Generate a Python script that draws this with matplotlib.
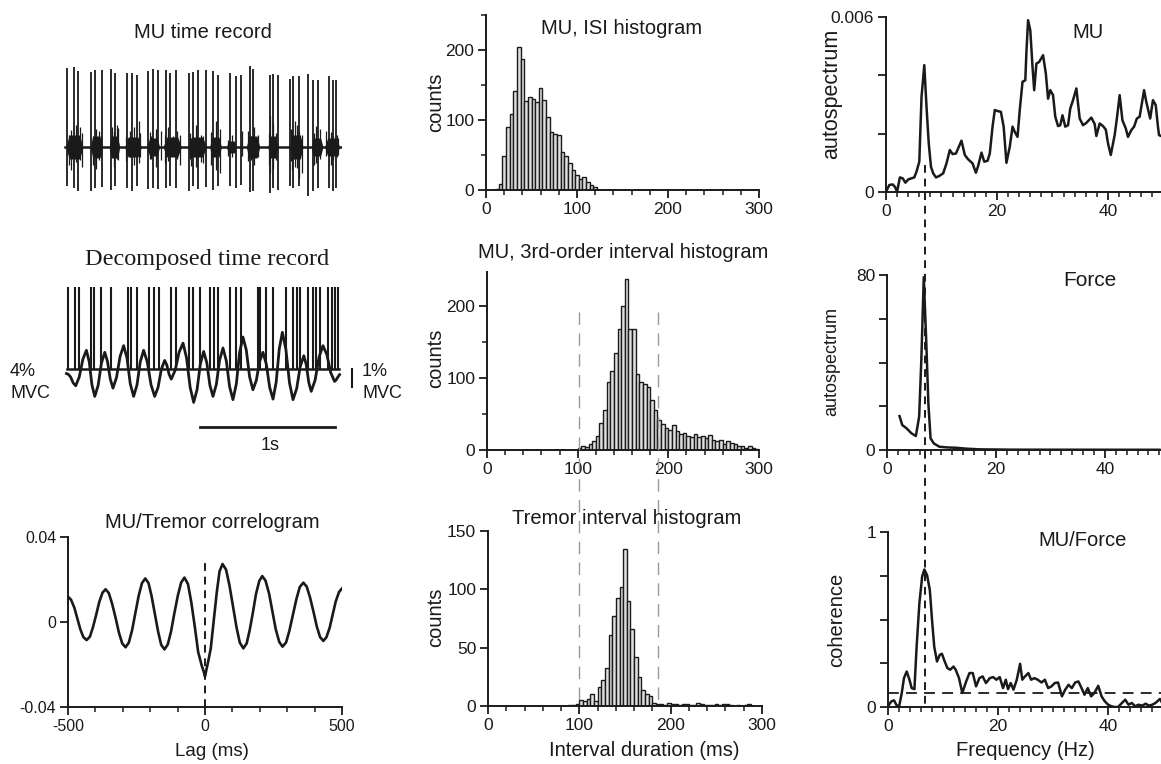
import numpy as np
import matplotlib
matplotlib.use("Agg")
import matplotlib.pyplot as plt
from matplotlib.ticker import MultipleLocator
from matplotlib.transforms import blended_transform_factory
from matplotlib.lines import Line2D

plt.rcParams["font.family"] = ["Liberation Sans", "DejaVu Sans"]
plt.rcParams["axes.unicode_minus"] = False
INK = "#1a1a1a"

# ---- MU time record (raw EMG): big spikes, smaller spikes, noise bursts (s, px) ----
mu_spike_t = [-0.007, 0.042, 0.074, 0.173, 0.198, 0.252, 0.316, 0.346, 0.440, 0.477,
              0.511, 0.593, 0.630, 0.667, 0.723, 0.753, 0.802, 0.896, 0.926, 0.963,
              1.025, 1.074, 1.111, 1.202, 1.247, 1.284, 1.346, 1.370, 1.494, 1.519,
              1.556, 1.642, 1.667, 1.711, 1.778, 1.815, 1.852, 1.933, 1.963, 1.988]
mu_spike_up = [79, 80, 76, 75, 77, 77, 78, 74, 74, 74, 72, 76, 78, 77, 77, 74, 77, 74, 75, 77,
               77, 76, 72, 74, 71, 72, 81, 78, 72, 73, 72, 68, 71, 71, 73, 67, 67, 71, 67, 67]
mu_spike_down = [39, 41, 44, 44, 41, 40, 43, 39, 41, 44, 39, 42, 41, 42, 41, 39, 41, 44, 39, 42,
                 40, 43, 39, 39, 41, 38, 45, 44, 46, 41, 43, 39, 41, 39, 49, 44, 41, 41, 44, 41]
small_spike_t = [0.005, 0.025, 0.060, 0.091, 0.100, 0.185, 0.205, 0.230, 0.245, 0.328,
                 0.340, 0.360, 0.370, 0.430, 0.462, 0.490, 0.526, 0.535, 0.605, 0.617,
                 0.650, 0.691, 0.715, 0.740, 0.778, 0.810, 0.830, 0.905, 0.914, 0.945,
                 0.985, 1.000, 1.060, 1.094, 1.125, 1.185, 1.215, 1.291, 1.330, 1.358,
                 1.380, 1.395, 1.410, 1.488, 1.499, 1.520, 1.538, 1.650, 1.662, 1.680,
                 1.696, 1.711, 1.730, 1.822, 1.840, 1.870, 1.914, 1.945, 1.963, 1.990,
                 2.000]
small_spike_up = [12, 17, 22, 20, 14, 11, 18, 16, 12, 20, 15, 22, 19, 10, 16, 20, 26, 14, 15, 11,
                  18, 16, 12, 20, 11, 16, 12, 14, 9, 22, 12, 11, 15, 26, 18, 7, 12, 16, 16, 11,
                  20, 7, 12, 14, 31, 24, 14, 18, 17, 26, 22, 15, 12, 14, 21, 18, 16, 15, 11, 12,
                  9]
small_spike_down = [18, 23, 15, 13, 20, 18, 22, 13, 10, 9, 20, 12, 13, 14, 10, 18, 16, 10, 12, 12,
                    20, 13, 16, 14, 9, 12, 18, 12, 19, 20, 15, 16, 18, 23, 26, 9, 10, 9, 14, 13,
                    18, 10, 10, 18, 26, 22, 13, 14, 23, 20, 21, 31, 26, 18, 16, 12, 9, 18, 13, 10,
                    8]
burst_start = [-0.017, 0.165, 0.304, 0.420, 0.585, 0.704, 0.889, 1.049, 1.173, 1.321,
               1.481, 1.642, 1.802, 1.901]
burst_end = [0.111, 0.254, 0.383, 0.543, 0.679, 0.840, 1.025, 1.136, 1.247, 1.420,
             1.556, 1.741, 1.889, 2.012]
burst_amp = [12, 11, 11, 10, 9, 10, 10, 10, 6, 11, 11, 12, 9, 9]

# ---- decomposed record: MU firing times (s) and tremor (% MVC) ----
firing_t = [0.000, 0.049, 0.081, 0.173, 0.193, 0.247, 0.321, 0.444, 0.469, 0.511,
            0.600, 0.635, 0.674, 0.765, 0.798, 0.896, 0.926, 0.975, 1.049, 1.079,
            1.111, 1.202, 1.247, 1.284, 1.407, 1.425, 1.469, 1.519, 1.617, 1.667,
            1.696, 1.716, 1.778, 1.815, 1.840, 1.869, 1.926, 1.958, 1.975, 2.000]
tremor_t = [-0.012, 0.000, 0.019, 0.038, 0.057, 0.083, 0.110, 0.136, 0.157, 0.177,
            0.198, 0.223, 0.247, 0.272, 0.292, 0.313, 0.333, 0.359, 0.386, 0.412,
            0.437, 0.461, 0.486, 0.511, 0.535, 0.560, 0.587, 0.615, 0.642, 0.667,
            0.691, 0.716, 0.732, 0.749, 0.765, 0.794, 0.823, 0.852, 0.878, 0.905,
            0.931, 0.956, 0.980, 1.005, 1.028, 1.051, 1.074, 1.099, 1.123, 1.148,
            1.173, 1.197, 1.222, 1.247, 1.271, 1.296, 1.321, 1.345, 1.370, 1.395,
            1.419, 1.444, 1.469, 1.494, 1.519, 1.542, 1.565, 1.588, 1.614, 1.641,
            1.667, 1.694, 1.720, 1.747, 1.765, 1.784, 1.802, 1.831, 1.860, 1.889,
            1.918, 1.946, 1.975, 1.987, 2.000, 2.012]
tremor_v = [-0.25, -0.28, -0.44, -0.77, -0.93, -0.44, 0.55, 1.04, 0.40, -0.88,
            -1.52, -0.91, 0.32, 0.93, 0.43, -0.56, -1.06, -0.47, 0.71, 1.30,
            0.60, -0.82, -1.52, -0.88, 0.40, 1.04, 0.40, -0.88, -1.52, -1.02,
            -0.02, 0.48, 0.22, -0.30, -0.56, -0.06, 0.94, 1.44, 0.62, -1.03,
            -1.85, -1.14, 0.27, 0.98, 0.36, -0.90, -1.52, -0.85, 0.50, 1.17,
            0.45, -0.98, -1.70, -0.83, 0.91, 1.78, 1.05, -0.42, -1.15, -0.63,
            0.41, 0.93, 0.28, -1.02, -1.67, -0.74, 1.11, 2.04, 1.11, -0.77,
            -1.70, -1.09, 0.13, 0.74, 0.25, -0.75, -1.24, -0.61, 0.67, 1.30,
            0.80, -0.19, -0.69, -0.60, -0.44, -0.31]

# ---- MU/tremor correlogram ----
corr_lag = [-500, -489, -477, -466, -455, -444, -432, -420, -409, -397,
            -386, -374, -363, -351, -339, -326, -314, -302, -290, -278,
            -266, -254, -242, -230, -218, -206, -195, -183, -171, -160,
            -148, -136, -124, -112, -99, -87, -75, -62, -50, -37,
            -25, -12, -5, 0, 5, 11, 21, 32, 43, 53,
            64, 77, 89, 102, 115, 127, 140, 152, 163, 175,
            186, 198, 209, 221, 234, 246, 258, 271, 283, 296,
            308, 321, 334, 346, 359, 371, 383, 396, 408, 420,
            432, 443, 455, 466, 477, 489, 500]
corr_val = [0.0119, 0.0105, 0.0068, 0.0017, -0.0034, -0.0071, -0.0085, -0.0069, -0.0025, 0.0035,
            0.0094, 0.0138, 0.0154, 0.0136, 0.0086, 0.0018, -0.0051, -0.0101, -0.0119, -0.0097,
            -0.0038, 0.0043, 0.0124, 0.0183, 0.0205, 0.0183, 0.0122, 0.0038, -0.0046, -0.0107,
            -0.0129, -0.0106, -0.0045, 0.0040, 0.0125, 0.0186, 0.0209, 0.0178, 0.0093, -0.0024,
            -0.0141, -0.0205, -0.0232, -0.0257, -0.0225, -0.0190, -0.0125, 0.0008, 0.0140, 0.0238,
            0.0273, 0.0246, 0.0174, 0.0075, -0.0025, -0.0097, -0.0124, -0.0101, -0.0039, 0.0046,
            0.0131, 0.0193, 0.0216, 0.0194, 0.0133, 0.0050, -0.0033, -0.0094, -0.0116, -0.0096,
            -0.0041, 0.0035, 0.0110, 0.0165, 0.0185, 0.0167, 0.0117, 0.0048, -0.0021, -0.0071,
            -0.0089, -0.0072, -0.0027, 0.0035, 0.0096, 0.0141, 0.0158]

# ---- interval histograms (4 ms bins, first bin start in ms) ----
BIN_W = 4
isi_first = 10
isi_counts = [2, 8, 48, 90, 108, 142, 205, 187, 127, 133, 130, 125, 145, 128, 104, 83, 80, 78,
              55, 48, 38, 29, 22, 16, 18, 12, 7, 4]
third_first = 100
third_counts = [3, 5, 4, 8, 12, 20, 38, 55, 95, 110, 135, 168, 200, 237, 168, 168, 105, 95, 92, 88,
                70, 55, 42, 36, 30, 28, 35, 26, 22, 24, 20, 18, 22, 18, 20, 16, 21, 14, 12, 14,
                8, 12, 10, 8, 5, 6, 3, 5, 3, 2]
tremor_first = 88
tremor_counts = [1, 1, 2, 5, 4, 6, 10, 4, 16, 22, 33, 61, 77, 93, 102, 135, 90, 66, 42, 25,
                 14, 10, 9, 3, 2, 2, 1, 3, 2, 2, 1, 2, 2, 1, 1, 3, 2, 1, 1, 1,
                 2, 1, 2, 2, 1, 0, 1, 0, 1, 2]
window_ms = [100, 186]

# ---- spectra ----
mu_f = [0, 0.6, 1.2, 1.6, 2.0, 2.5, 3.0, 3.5, 4.0, 4.6, 5.1, 5.5, 6.0, 6.4, 6.9, 7.3, 7.7, 8.1,
        8.5, 9.0, 9.6, 10.3, 10.9, 11.5, 12.0, 12.6, 13.6, 14.2, 14.8, 15.6, 16.2, 16.6, 17.2,
        17.7, 18.3, 18.7, 19.2, 19.6, 20.2, 20.7, 21.2, 21.7, 22.3, 22.8, 23.2, 23.7, 24.1,
        24.6, 25.1, 25.3, 25.6, 26.0, 26.4, 26.7, 27.1, 27.6, 28.3, 28.8, 29.2, 29.6, 30.1,
        30.5, 31.0, 31.4, 31.8, 32.3, 32.8, 33.2, 33.7, 34.3, 34.9, 35.5, 36.1, 37.0, 37.6,
        37.9, 38.5, 39.1, 39.6, 40.0, 40.5, 41.2, 41.6, 42.1, 42.6, 43.2, 43.6, 44.2, 44.7,
        45.2, 45.7, 46.5, 46.9, 47.6, 48.1, 48.6, 49.0, 49.2, 49.8]
mu_spec_e3 = [0.01, 0.24, 0.26, 0.18, 0.01, 0.50, 0.47, 0.32, 0.43, 0.47, 0.50, 0.70, 1.04, 3.26,
              4.35, 2.92, 1.67, 0.87, 0.64, 0.50, 0.55, 0.64, 0.98, 1.44, 1.30, 1.32, 1.76, 1.27,
              1.12, 0.98, 0.66, 0.89, 1.35, 1.04, 1.07, 1.32, 2.24, 2.81, 2.77, 2.75, 2.24, 1.00,
              1.55, 2.24, 2.06, 1.89, 2.81, 3.78, 3.83, 4.80, 5.89, 5.54, 4.29, 3.49, 4.40, 4.46,
              4.69, 4.06, 3.20, 3.49, 3.32, 2.58, 2.26, 2.29, 2.63, 2.24, 2.29, 2.86, 3.15, 3.55,
              2.52, 2.29, 2.37, 2.55, 2.33, 1.92, 2.35, 2.26, 2.14, 1.67, 1.27, 1.95, 2.52, 3.32,
              2.46, 2.18, 1.89, 2.12, 2.24, 2.52, 2.58, 3.49, 3.09, 2.52, 3.15, 2.98, 2.24, 1.95,
              1.90]
force_f = [2.3, 2.8, 3.6, 4.5, 5.3, 5.9, 6.3, 6.75, 7.2, 7.6, 8.0, 8.6, 9.6, 10.9, 12.8, 14.6,
           17.0, 23.0, 50.0]
force_spec = [15.5, 11.4, 9.9, 7.6, 6.4, 15.2, 41, 79, 50, 21, 5.3, 3.0, 1.5, 1.2, 1.0, 0.6,
              0.3, 0.15, 0.1]
coh_f = [0, 0.6, 1.1, 1.5, 2.0, 2.5, 2.9, 3.4, 3.9, 4.3, 4.8, 5.2, 5.7, 6.2, 6.6, 7.1, 7.6, 8.0,
         8.4, 8.9, 9.4, 9.8, 10.3, 10.8, 11.3, 11.9, 12.3, 12.9, 13.5, 14.2, 14.8, 15.4, 16.0,
         16.6, 17.2, 17.8, 18.5, 19.1, 19.7, 20.3, 20.9, 21.4, 21.8, 22.3, 22.8, 23.4, 24.0,
         24.4, 24.9, 25.5, 26.0, 26.6, 27.2, 27.9, 28.5, 29.1, 29.7, 30.3, 30.9, 31.6, 32.2,
         32.8, 33.4, 34.0, 34.6, 35.3, 35.7, 36.3, 36.9, 37.5, 38.2, 38.8, 39.4, 40.0, 40.6,
         41.2, 41.8, 42.5, 43.1, 43.7, 44.3, 44.9, 45.5, 46.2, 46.8, 47.4, 48.0, 48.6, 49.4, 50.0]
coh_val = [0.004, 0.032, 0.038, 0.013, 0.0, 0.08, 0.165, 0.203, 0.156, 0.108, 0.102, 0.345, 0.592,
           0.744, 0.786, 0.753, 0.668, 0.497, 0.345, 0.26, 0.298, 0.304, 0.26, 0.222, 0.213,
           0.231, 0.213, 0.165, 0.08, 0.146, 0.194, 0.194, 0.118, 0.165, 0.175, 0.137, 0.165,
           0.171, 0.156, 0.171, 0.108, 0.156, 0.102, 0.137, 0.099, 0.156, 0.247, 0.156, 0.175,
           0.194, 0.156, 0.165, 0.156, 0.14, 0.156, 0.108, 0.118, 0.137, 0.14, 0.061, 0.099,
           0.127, 0.108, 0.14, 0.146, 0.099, 0.07, 0.108, 0.061, 0.08, 0.121, 0.061, 0.032,
           0.013, 0.004, 0.0, 0.0, 0.023, 0.042, 0.013, 0.023, 0.004, 0.013, 0.008, 0.019, 0.008,
           0.013, 0.023, 0.046, 0.013]
coh_limit = 0.08
tremor_hz = 6.7

W, H = 1161, 764
fig = plt.figure(figsize=(W / 100, H / 100), dpi=100)


def box(left, top, right, bottom):
    return [left / W, 1 - bottom / H, (right - left) / W, (bottom - top) / H]


def label(x, y, s, size=13, **kw):
    kw.setdefault("ha", "center")
    kw.setdefault("va", "center")
    fig.text(x / W, 1 - y / H, s, fontsize=size, color=INK, **kw)


def style(ax, fs=12.5):
    for s in ("top", "right"):
        ax.spines[s].set_visible(False)
    for s in ("left", "bottom"):
        ax.spines[s].set_linewidth(1.4)
        ax.spines[s].set_color(INK)
    ax.tick_params(which="major", direction="out", length=6, width=1.3, labelsize=fs,
                   pad=2.5, colors=INK)
    ax.tick_params(which="minor", direction="out", length=3.5, width=1.1, colors=INK)
    ax.set_facecolor("none")


# ---------------- left column ----------------
ax_raw = fig.add_axes(box(64, 62, 342, 202))
ax_raw.axis("off")
ax_raw.set_xlim(-0.03, 2.03)
ax_raw.set_ylim(-55, 85)
for t0, t1, a in zip(burst_start, burst_end, burst_amp):
    d = 0.2 * (t1 - t0)
    ax_raw.fill_between([t0, t0 + d, t1 - d, t1], [0, -a, -a, 0], [0, a, a, 0],
                        color=INK, lw=0)
ax_raw.plot([-0.02, 2.02], [0, 0], color=INK, lw=1.8)
ax_raw.vlines(small_spike_t, -np.array(small_spike_down), small_spike_up, color=INK, lw=0.9)
ax_raw.vlines(mu_spike_t, -np.array(mu_spike_down), mu_spike_up, color=INK, lw=1.3)
label(203, 33, "MU time record", 14.5)

ax_dec = fig.add_axes(box(64, 287, 342, 409))
ax_dec.axis("off")
ax_dec.set_xlim(-0.03, 2.03)
ax_dec.set_ylim(-2.22, 4.56)
ax_dec.vlines(firing_t, 0, 4.56, color=INK, lw=1.5)
ax_dec.plot([-0.005, 2.01], [0, 0], color=INK, lw=1.8)
ax_dec.plot(tremor_t, tremor_v, color=INK, lw=2.0)
ax_dec.plot([0.978, 1.978], [-3.22, -3.22], color=INK, lw=2.0, clip_on=False)
ax_dec.plot([2.104, 2.104], [0, -1.0], color=INK, lw=1.5, clip_on=False)
fig.text(207 / W, 1 - 259 / H, "Decomposed time record", fontsize=17.5, color=INK,
         family=["Liberation Serif", "DejaVu Serif"], ha="center", va="center")
label(10, 371, "4%", 13, ha="left")
label(10, 394, "MVC", 13, ha="left")
label(362, 371, "1%", 13, ha="left")
label(362, 394, "MVC", 13, ha="left")
label(270, 446, "1s", 13)

ax_cor = fig.add_axes(box(68, 537, 342, 707))
style(ax_cor, 11.5)
ax_cor.plot(corr_lag, corr_val, color=INK, lw=1.9)
ax_cor.plot([0, 0], [-0.04, 0.0278], color=INK, lw=1.4, ls=(0, (4, 3)))
ax_cor.set_xlim(-500, 500)
ax_cor.set_ylim(-0.04, 0.04)
ax_cor.set_xticks([-500, 0, 500])
ax_cor.xaxis.set_minor_locator(MultipleLocator(100))
ax_cor.set_yticks([-0.04, 0, 0.04])
ax_cor.set_yticklabels(["-0.04", "0", "0.04"])
label(212, 523, "MU/Tremor correlogram", 14.5)
label(212, 751, "Lag (ms)", 13.5)

# ---------------- middle column ----------------
hists = [
    (box(486, 15, 759, 190), isi_first, isi_counts, 250, [0, 100, 200], 50),
    (box(487, 272, 759, 450), third_first, third_counts, 247, [0, 100, 200], 50),
    (box(488, 531, 762, 706), tremor_first, tremor_counts, 150, [0, 50, 100, 150], None),
]
hist_axes = []
for rect, first, counts, ytop, yt, yminor in hists:
    ax = fig.add_axes(rect)
    style(ax)
    left = first + BIN_W * np.arange(len(counts))
    ax.bar(left, counts, width=BIN_W, align="edge", facecolor="#dedede",
           edgecolor=INK, linewidth=1.0)
    ax.set_xlim(0, 300)
    ax.set_ylim(0, ytop)
    ax.set_xticks([0, 100, 200, 300])
    ax.xaxis.set_minor_locator(MultipleLocator(20))
    ax.set_yticks(yt)
    if yminor:
        ax.yaxis.set_minor_locator(MultipleLocator(yminor))
    hist_axes.append(ax)

label(622, 28, "MU, ISI histogram", 14.5)
label(623, 252, "MU, 3rd-order interval histogram", 14.5)
label(627, 518, "Tremor interval histogram", 14.5)
for y in (102, 358, 617):
    label(436, y, "counts", 14.5, rotation=90)
label(644, 751, "Interval duration (ms)", 14.5)

tr = blended_transform_factory(hist_axes[2].transData, fig.transFigure)
for xm in window_ms:
    fig.add_artist(Line2D([xm, xm], [1 - 312 / H, 1 - 705 / H], transform=tr,
                          color="#9a9a9a", lw=1.0, ls=(0, (9, 6))))

# ---------------- right column ----------------
ax_mu = fig.add_axes(box(886, 17, 1161, 192))
style(ax_mu)
ax_mu.plot(mu_f, np.array(mu_spec_e3) * 1e-3, color=INK, lw=1.8)
ax_mu.set_xlim(0, 49.55)
ax_mu.set_ylim(0, 0.006)
ax_mu.set_yticks([0, 0.002, 0.004, 0.006])
ax_mu.set_yticklabels(["0", "", "", "0.006"])

ax_f = fig.add_axes(box(887, 275, 1161, 450))
style(ax_f)
ax_f.plot(force_f, force_spec, color=INK, lw=1.8)
ax_f.set_xlim(0, 50.3)
ax_f.set_ylim(0, 80)
ax_f.set_yticks([0, 20, 40, 60, 80])
ax_f.set_yticklabels(["0", "", "", "", "80"])

ax_c = fig.add_axes(box(888, 532, 1161, 707))
style(ax_c)
ax_c.plot(coh_f, coh_val, color=INK, lw=1.8)
ax_c.plot([0, 50], [coh_limit, coh_limit], color=INK, lw=1.3, ls=(0, (6, 4)))
ax_c.set_xlim(0, 49.6)
ax_c.set_ylim(0, 1)
ax_c.set_yticks([0, 0.25, 0.5, 0.75, 1])
ax_c.set_yticklabels(["0", "", "", "", "1"])

for ax in (ax_mu, ax_f, ax_c):
    ax.set_xticks([0, 20, 40])
    ax.xaxis.set_minor_locator(MultipleLocator(2))

trc = blended_transform_factory(ax_c.transData, fig.transFigure)
fig.add_artist(Line2D([tremor_hz, tremor_hz], [1 - 165 / H, 1 - 707 / H], transform=trc,
                      color=INK, lw=1.4, ls=(0, (4, 3))))

label(1088, 33, "MU", 14.5)
label(1090, 280, "Force", 15)
label(1083, 540, "MU/Force", 14.5)
label(832, 94, "autospectrum", 15.5, rotation=90)
label(832, 362, "autospectrum", 13, rotation=90)
label(837, 620, "coherence", 14.5, rotation=90)
label(1025, 751, "Frequency (Hz)", 14.5)

fig.savefig("out.png", dpi=100)
